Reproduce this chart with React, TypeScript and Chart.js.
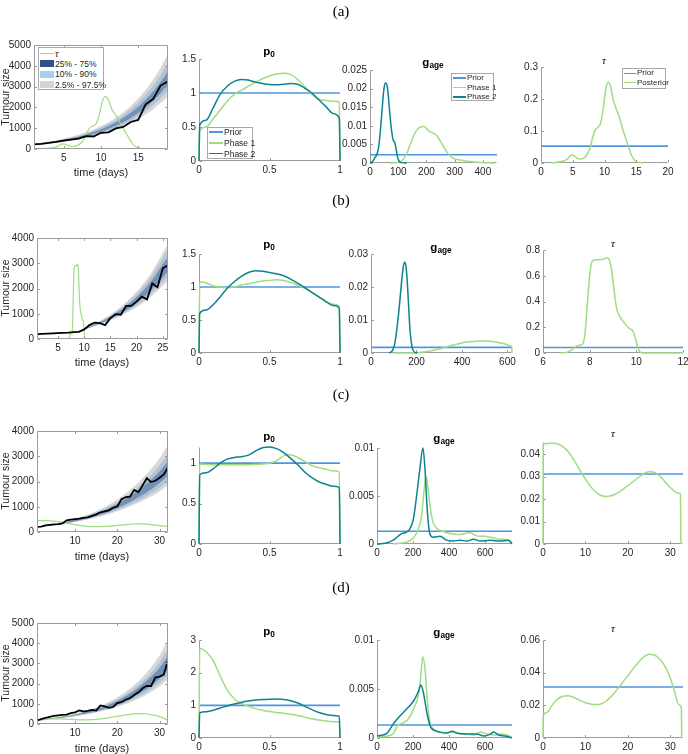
import React, { useEffect, useRef } from "react";
import { Chart, registerables } from "chart.js";

Chart.register(...registerables);

const FONT = '"Liberation Sans", Arial, Helvetica, sans-serif';
Chart.defaults.font.family = FONT;

// ---------- colours ----------
const PRIOR = "#4f95dc";
const PHASE1 = "#9fdd80";
const PHASE2 = "#0b8391";
const OBS = "#000000";
const BAND97 = "#d8d8d8";
const BAND90 = "#b3c3d6";
const BAND75 = "#7391b5";
const LEG75 = "#2e5183";
const LEG90 = "#a9cfec";
const LEG97 = "#d3d3d3";

// ================= Row (a) =================
const daysA = [1, 2, 3, 4, 5, 6, 7, 8, 9, 10, 11, 12, 13, 14, 15, 16, 17, 18, 19];
const obsA = [225, 250, 290, 340, 400, 450, 500, 620, 600, 780, 800, 990, 1060, 1300, 1400, 2150, 2400, 3050, 3250];
const bandDaysA = [1, 2, 3, 4, 5, 6, 7, 8, 9, 10, 11, 12, 13, 14, 15, 16, 17, 18, 19];
const lo975A = [200, 230, 266, 306, 352, 406, 467, 538, 621, 714, 822, 948, 1090, 1253, 1445, 1663, 1915, 2203, 2535];
const lo90A = [209, 242, 279, 323, 373, 431, 497, 575, 665, 767, 886, 1025, 1182, 1364, 1577, 1822, 2106, 2428, 2805];
const lo75A = [221, 256, 296, 343, 398, 460, 533, 618, 716, 829, 960, 1113, 1288, 1490, 1728, 2002, 2320, 2684, 3110];
const hi75A = [239, 279, 325, 379, 441, 514, 599, 698, 814, 948, 1105, 1289, 1500, 1745, 2036, 2372, 2767, 3219, 3752];
const hi90A = [251, 293, 343, 401, 469, 548, 640, 748, 876, 1023, 1196, 1399, 1633, 1906, 2230, 2606, 3048, 3557, 4157];
const hi975A = [265, 310, 363, 426, 499, 585, 685, 803, 942, 1103, 1291, 1514, 1771, 2071, 2428, 2844, 3333, 3896, 4563];
const tauXA = [1.7, 2.5, 3.2, 3.8, 4.3, 4.8, 5.2, 5.7, 6.2, 6.7, 7.2, 7.7, 8.2, 8.6, 9.0, 9.4, 9.8, 10.2, 10.6, 11.0, 11.4, 11.8, 12.3, 12.8, 13.3, 13.8, 14.3, 14.8, 15.4, 16.2];
const tauYA = [0, 0.002, 0.005, 0.008, 0.015, 0.025, 0.023, 0.015, 0.012, 0.015, 0.025, 0.045, 0.085, 0.105, 0.112, 0.125, 0.17, 0.23, 0.253, 0.235, 0.195, 0.172, 0.145, 0.11, 0.08, 0.05, 0.022, 0.008, 0.002, 0];
const tauScaleA = 10000;
const tauPriorA = 0.0526;
const p0Grid = [0, 0.005, 0.05, 0.1, 0.15, 0.2, 0.25, 0.3, 0.35, 0.4, 0.45, 0.5, 0.55, 0.6, 0.65, 0.7, 0.75, 0.8, 0.85, 0.9, 0.95, 0.995, 1];
const p0Ph1A = [0, 0.44, 0.5, 0.62, 0.75, 0.88, 0.98, 1.04, 1.1, 1.16, 1.21, 1.25, 1.28, 1.29, 1.27, 1.2, 1.09, 0.98, 0.91, 0.89, 0.88, 0.875, 0];
const p0Ph2A = [0, 0.53, 0.6, 0.78, 0.98, 1.1, 1.17, 1.2, 1.19, 1.16, 1.14, 1.125, 1.12, 1.13, 1.14, 1.13, 1.07, 1.0, 0.9, 0.8, 0.7, 0.63, 0];
const p0Prior = 1;
const gPh2XA = [0, 10, 18, 24, 30, 36, 42, 48, 54, 60, 65, 70, 76, 82, 88, 93, 98, 104, 112, 130];
const gPh2YA = [0, 0.0005, 0.0015, 0.0022, 0.004, 0.008, 0.0135, 0.019, 0.0215, 0.021, 0.018, 0.0135, 0.009, 0.0062, 0.0055, 0.0035, 0.0015, 0.0004, 0.0001, 0];
const gPh1XA = [70, 100, 115, 130, 145, 160, 175, 190, 200, 210, 222, 235, 248, 260, 272, 285, 300, 320, 345, 370, 395, 420, 440];
const gPh1YA = [0, 0.0001, 0.0008, 0.0025, 0.0055, 0.0082, 0.0095, 0.0098, 0.0093, 0.0085, 0.0081, 0.0075, 0.006, 0.0045, 0.003, 0.0018, 0.0011, 0.0008, 0.0005, 0.0003, 0.00015, 0.00005, 0];
const gPriorA = 0.00222;

// ================= Row (b) =================
const daysB = [1, 2, 3, 4, 5, 6, 7, 8, 9, 10, 11, 12, 13, 14, 15, 16, 17, 18, 19, 20, 21, 22, 23, 24, 25, 26];
const obsB = [190, 205, 215, 225, 235, 245, 255, 270, 285, 380, 550, 650, 630, 550, 825, 985, 960, 1310, 1310, 1480, 1680, 1570, 2200, 2050, 2800, 2920];
const bandDaysB = [1, 3, 5, 7, 9, 10, 11, 13, 15, 17, 19, 21, 23, 25, 26];
const lo975B = [182, 206, 230, 254, 282, 359, 428, 570, 731, 918, 1137, 1393, 1720, 2104, 2301];
const lo90B = [184, 209, 233, 257, 288, 371, 442, 592, 764, 967, 1206, 1488, 1838, 2265, 2478];
const lo75B = [187, 212, 236, 261, 294, 380, 456, 614, 798, 1021, 1281, 1591, 1978, 2444, 2685];
const hi75B = [193, 218, 244, 269, 306, 400, 484, 666, 882, 1145, 1466, 1858, 2344, 2948, 3245];
const hi90B = [196, 221, 247, 273, 312, 410, 498, 691, 924, 1210, 1562, 1995, 2537, 3203, 3540];
const hi975B = [198, 224, 250, 276, 318, 421, 512, 717, 966, 1274, 1658, 2116, 2688, 3404, 3776];
const tauXB = [6.75, 7.0, 7.2, 7.4, 7.55, 7.7, 7.8, 7.9, 8.0, 8.1, 8.25, 8.45, 8.6, 8.75, 8.85, 8.95, 9.05, 9.15, 9.3, 9.5, 9.7, 9.85, 9.95, 10.05, 10.15, 10.3, 11, 12];
const tauYB = [0, 0.005, 0.02, 0.05, 0.06, 0.07, 0.15, 0.38, 0.6, 0.71, 0.725, 0.725, 0.73, 0.74, 0.72, 0.63, 0.48, 0.35, 0.28, 0.23, 0.19, 0.17, 0.12, 0.05, 0.01, 0, 0, 0];
const tauScaleB = 4000;
const tauPriorB = 0.043;
const p0Ph1B = [0, 1.08, 1.06, 1.02, 1.0, 0.99, 1.0, 1.03, 1.05, 1.07, 1.09, 1.1, 1.11, 1.1, 1.07, 1.03, 0.98, 0.92, 0.85, 0.78, 0.74, 0.71, 0];
const p0Ph2B = [0, 0.6, 0.65, 0.73, 0.85, 0.98, 1.08, 1.16, 1.22, 1.245, 1.24, 1.22, 1.2, 1.17, 1.12, 1.06, 0.99, 0.92, 0.85, 0.78, 0.72, 0.68, 0];
const gPh2XB = [80, 95, 105, 115, 125, 135, 142, 148, 154, 160, 166, 172, 180, 190, 205];
const gPh2YB = [0, 0.0008, 0.003, 0.008, 0.0145, 0.022, 0.0262, 0.0275, 0.0262, 0.021, 0.0135, 0.0065, 0.002, 0.0003, 0];
const gPh1XB = [100, 180, 220, 260, 300, 340, 380, 420, 450, 480, 510, 540, 570, 600, 615, 619, 620];
const gPh1YB = [0, 0, 0.0002, 0.0006, 0.0012, 0.002, 0.0027, 0.0033, 0.0035, 0.0036, 0.0036, 0.0034, 0.003, 0.0025, 0.0021, 0.0019, 0];
const gPriorB = 0.0017;

// ================= Row (c) =================
const daysC = [1, 2, 3, 4, 5, 6, 7, 8, 9, 10, 11, 12, 13, 14, 15, 16, 17, 18, 19, 20, 21, 22, 23, 24, 25, 26, 27, 28, 29, 30, 31, 32];
const obsC = [200, 215, 260, 285, 300, 310, 340, 460, 490, 510, 530, 560, 580, 640, 700, 780, 820, 860, 960, 1010, 1300, 1380, 1400, 1670, 1580, 1850, 2130, 1980, 2030, 2150, 2280, 2560];
const bandDaysC = [1, 4, 7, 10, 13, 16, 19, 22, 25, 28, 30, 32];
const lo975C = [186, 237, 303, 392, 493, 614, 761, 940, 1155, 1404, 1606, 1850];
const lo90C = [190, 243, 313, 407, 516, 648, 808, 1006, 1245, 1525, 1752, 2025];
const lo75C = [195, 251, 326, 428, 548, 693, 874, 1097, 1373, 1687, 1941, 2250];
const hi75C = [205, 269, 355, 475, 618, 796, 1020, 1303, 1658, 2068, 2399, 2800];
const hi90C = [210, 278, 369, 496, 650, 842, 1086, 1396, 1785, 2251, 2634, 3100];
const hi975C = [214, 286, 384, 522, 690, 903, 1175, 1523, 1965, 2492, 2924, 3450];
const tauXC = [0, 0.05, 1, 2, 3, 4, 5, 6, 7, 8, 9, 10, 11, 12, 13, 14, 15, 16, 17, 18, 19, 20, 21, 22, 23, 24, 25, 26, 27, 28, 29, 30, 31, 32, 32.4, 32.5];
const tauYC = [0, 0.0445, 0.0448, 0.0449, 0.0448, 0.0442, 0.043, 0.041, 0.0383, 0.0352, 0.032, 0.029, 0.0262, 0.024, 0.0224, 0.0214, 0.0212, 0.0215, 0.0222, 0.0233, 0.0246, 0.026, 0.0275, 0.029, 0.0304, 0.0316, 0.0322, 0.0321, 0.0312, 0.0295, 0.0272, 0.0252, 0.0235, 0.0226, 0.0224, 0];
const tauScaleC = 10000;
const tauPriorC = 0.03125;
const p0Ph1C = [0, 0.99, 0.985, 0.98, 0.98, 0.98, 0.98, 0.98, 0.98, 0.985, 0.99, 1.0, 1.03, 1.09, 1.105, 1.07, 1.02, 0.97, 0.945, 0.925, 0.905, 0.89, 0];
const p0Ph2C = [0, 0.86, 0.88, 0.93, 1.0, 1.05, 1.07, 1.08, 1.1, 1.15, 1.19, 1.2, 1.18, 1.13, 1.06, 0.98, 0.89, 0.82, 0.77, 0.74, 0.715, 0.7, 0];
const gPh2XC = [0, 52, 89, 117, 140, 160, 180, 201, 220, 238, 255, 266, 279, 293, 313, 350, 387, 425, 462, 499, 536, 573, 629, 685, 731, 750];
const gPh2YC = [0, 0.0001, 0.0004, 0.0008, 0.0011, 0.0012, 0.0015, 0.0025, 0.005, 0.0078, 0.01, 0.008, 0.0036, 0.0011, 0.0007, 0.0008, 0.0004, 0.0003, 0.0004, 0.0003, 0.0005, 0.0003, 0.0004, 0.0003, 0.0004, 0];
const gPh1XC = [89, 164, 201, 229, 248, 261, 272, 285, 298, 313, 341, 369, 406, 440, 462, 490, 518, 545, 573, 601, 629, 657, 685, 710, 731, 750];
const gPh1YC = [0, 0.0002, 0.0006, 0.0015, 0.003, 0.0055, 0.0071, 0.0055, 0.0035, 0.0022, 0.0015, 0.0013, 0.0011, 0.001, 0.001, 0.0011, 0.0012, 0.0009, 0.0008, 0.0008, 0.0007, 0.0006, 0.0005, 0.0005, 0.0004, 0.0002];
const gPriorC = 0.00133;

// ================= Row (d) =================
const daysD = [1, 2, 3, 4, 5, 6, 7, 8, 9, 10, 11, 12, 13, 14, 15, 16, 17, 18, 19, 20, 21, 22, 23, 24, 25, 26, 27, 28, 29, 30, 31, 32];
const obsD = [180, 245, 300, 350, 400, 425, 450, 460, 540, 575, 670, 620, 655, 700, 670, 920, 870, 800, 840, 1030, 1080, 1200, 1280, 1440, 1570, 1770, 1890, 1880, 2300, 2350, 2450, 3150];
const bandDaysD = [1, 4, 7, 10, 13, 16, 19, 22, 25, 28, 30, 32];
const lo975D = [186, 237, 303, 383, 485, 614, 778, 988, 1247, 1586, 1868, 2220];
const lo90D = [190, 243, 313, 398, 507, 648, 826, 1056, 1345, 1722, 2038, 2430];
const lo75D = [195, 251, 326, 419, 539, 693, 893, 1153, 1482, 1905, 2258, 2700];
const hi75D = [205, 269, 355, 464, 607, 796, 1042, 1369, 1790, 2335, 2790, 3360];
const hi90D = [210, 278, 369, 485, 638, 842, 1109, 1466, 1928, 2541, 3063, 3720];
const hi975D = [214, 286, 384, 510, 678, 903, 1200, 1600, 2122, 2814, 3400, 4140];
const tauXD = [0, 0.05, 1, 2, 3, 4, 5, 6, 7, 8, 9, 10, 11, 12, 13, 14, 15, 16, 17, 18, 19, 20, 21, 22, 23, 24, 25, 26, 27, 28, 29, 30, 31, 32, 32.6, 32.7];
const tauYD = [0, 0.0138, 0.0158, 0.0195, 0.0228, 0.0248, 0.0257, 0.0258, 0.0251, 0.024, 0.0227, 0.0216, 0.0209, 0.0205, 0.0205, 0.0212, 0.0228, 0.0252, 0.0282, 0.0315, 0.0348, 0.0381, 0.0415, 0.0448, 0.0478, 0.0501, 0.0512, 0.051, 0.0496, 0.0468, 0.0428, 0.0368, 0.0285, 0.0205, 0.0185, 0];
const tauScaleD = 10000;
const tauPriorD = 0.03125;
const p0Ph1D = [0, 2.75, 2.64, 2.38, 1.9, 1.47, 1.2, 1.06, 0.97, 0.9, 0.85, 0.81, 0.78, 0.76, 0.73, 0.69, 0.64, 0.59, 0.55, 0.52, 0.5, 0.5, 0];
const p0Ph2D = [0, 0.77, 0.8, 0.85, 0.92, 0.98, 1.04, 1.09, 1.13, 1.16, 1.18, 1.19, 1.195, 1.18, 1.14, 1.07, 0.97, 0.87, 0.78, 0.72, 0.69, 0.67, 0];
const gPh2XD = [0, 56, 93, 130, 167, 204, 231, 244, 259, 278, 296, 315, 352, 389, 417, 444, 500, 556, 593, 630, 648, 676, 713, 750];
const gPh2YD = [0.0002, 0.0005, 0.0015, 0.0023, 0.003, 0.0038, 0.0048, 0.0054, 0.0045, 0.0025, 0.0012, 0.0008, 0.0006, 0.0005, 0.0007, 0.0005, 0.0004, 0.0004, 0.0002, 0.0004, 0.0006, 0.0003, 0.0002, 0];
const gPh1XD = [0, 56, 93, 111, 139, 167, 204, 231, 244, 254, 267, 281, 296, 324, 370, 417, 463, 500, 537, 574, 611, 657, 694, 722, 750];
const gPh1YD = [0.0001, 0.0002, 0.0005, 0.0012, 0.0015, 0.0018, 0.003, 0.0045, 0.0065, 0.0083, 0.007, 0.0035, 0.0015, 0.0008, 0.0005, 0.0006, 0.0004, 0.0004, 0.0003, 0.0006, 0.0004, 0.0003, 0.0004, 0.0003, 0.0001];
const gPriorD = 0.00133;

// ---------- helpers ----------
const pts = (xs: number[], ys: number[]) => xs.map((x, i) => ({ x, y: ys[i] }));

function line(xs: number[], ys: number[], color: string, width: number, order: number, smooth = true, clip?: number) {
  const d: any = {
    data: pts(xs, ys),
    borderColor: color,
    borderWidth: width,
    pointRadius: 0,
    fill: false,
    order,
    tension: smooth ? 0.4 : 0,
    cubicInterpolationMode: smooth ? "monotone" : "default",
  };
  if (clip !== undefined) d.clip = clip;
  return d;
}

function edge(xs: number[], ys: number[], order: number, fillTo: number | null, color: string) {
  return {
    data: pts(xs, ys),
    borderColor: "rgba(0,0,0,0)",
    borderWidth: 0,
    pointRadius: 0,
    order,
    fill: fillTo === null ? false : fillTo,
    backgroundColor: color,
    cubicInterpolationMode: "monotone",
  };
}

function tumourSets(bd: number[], lo975: number[], lo90: number[], lo75: number[], hi75: number[], hi90: number[], hi975: number[], tx: number[], ty: number[], scale: number, days: number[], obs: number[]) {
  return [
    edge(bd, hi975, 10, 1, BAND97),
    edge(bd, lo975, 10, null, BAND97),
    edge(bd, hi90, 9, 3, BAND90),
    edge(bd, lo90, 9, null, BAND90),
    edge(bd, hi75, 8, 5, BAND75),
    edge(bd, lo75, 8, null, BAND75),
    line(tx, ty.map((v) => v * scale), PHASE1, 1.2, 2, true),
    line(days, obs, OBS, 1.8, 1, false),
  ];
}

function phaseSets(prior: number, xr: [number, number], x1: number[], y1: number[], x2: number[], y2: number[]) {
  return [
    line([xr[0], xr[1]], [prior, prior], PRIOR, 1.6, 3, false, 3),
    line(x1, y1, PHASE1, 1.5, 2, true, 3),
    line(x2, y2, PHASE2, 1.5, 1, true, 3),
  ];
}

function tauSets(prior: number, xr: [number, number], x: number[], y: number[]) {
  return [
    line([xr[0], xr[1]], [prior, prior], PRIOR, 1.6, 2, false, 3),
    line(x, y, PHASE1, 1.5, 1, true, 3),
  ];
}

const fmt = (v: number) => String(Math.round(v * 1e6) / 1e6);

const PADL = 40;
const PADT = 10;
const PADR = 16;
const PADB = 22;

function drawAxes(chart: any, boxed: boolean) {
  const { ctx, chartArea: a, scales } = chart;
  const l = Math.round(a.left) + 0.5;
  const r = Math.round(a.right) - 0.5;
  const t = Math.round(a.top) + 0.5;
  const b = Math.round(a.bottom) - 0.5;
  ctx.save();
  ctx.strokeStyle = "#9c9c9c";
  ctx.lineWidth = 1;
  ctx.beginPath();
  ctx.moveTo(l, t);
  ctx.lineTo(l, b);
  ctx.lineTo(r, b);
  if (boxed) {
    ctx.lineTo(r, t);
    ctx.lineTo(l, t);
  }
  ctx.stroke();
  const tl = 2.5;
  ctx.beginPath();
  for (const tk of scales.x.ticks) {
    const px = Math.round(scales.x.getPixelForValue(tk.value)) + 0.5;
    ctx.moveTo(px, b);
    ctx.lineTo(px, b - tl);
    if (boxed) {
      ctx.moveTo(px, t);
      ctx.lineTo(px, t + tl);
    }
  }
  for (const tk of scales.y.ticks) {
    const py = Math.round(scales.y.getPixelForValue(tk.value)) + 0.5;
    ctx.moveTo(l, py);
    ctx.lineTo(l + tl, py);
    if (boxed) {
      ctx.moveTo(r, py);
      ctx.lineTo(r - tl, py);
    }
  }
  ctx.stroke();
  ctx.restore();
}

const axesPlugin = {
  id: "matAxes",
  beforeDatasetsDraw(chart: any, _args: any, opts: any) {
    if (!opts.boxed) drawAxes(chart, false);
  },
  afterDatasetsDraw(chart: any, _args: any, opts: any) {
    if (opts.boxed) drawAxes(chart, true);
  },
};

type Spec = {
  id: string;
  box: [number, number, number, number];
  x: [number, number];
  y: [number, number];
  xt: number[];
  yt: number[];
  boxed?: boolean;
  ds: any[];
};

function Panel({ spec }: { spec: Spec }) {
  const ref = useRef<HTMLCanvasElement>(null);
  const [L, T, R, B] = spec.box;
  const W = R - L;
  const H = B - T;
  const cw = W + PADL + PADR;
  const ch = H + PADT + PADB;
  useEffect(() => {
    const tickFont = { size: 10, family: FONT };
    const chart = new Chart(ref.current as HTMLCanvasElement, {
      type: "line",
      data: { datasets: spec.ds },
      plugins: [axesPlugin as any],
      options: {
        animation: false,
        responsive: false,
        maintainAspectRatio: false,
        devicePixelRatio: 1,
        events: [],
        layout: { padding: { left: 0, top: PADT, right: PADR, bottom: 0 } },
        plugins: {
          legend: { display: false },
          tooltip: { enabled: false },
          matAxes: { boxed: !!spec.boxed },
        } as any,
        elements: { point: { radius: 0 } },
        scales: {
          x: {
            type: "linear",
            min: spec.x[0],
            max: spec.x[1],
            grid: { display: false, drawTicks: false },
            border: { display: false },
            ticks: {
              font: tickFont,
              color: "#262626",
              padding: 3,
              autoSkip: false,
              maxRotation: 0,
              minRotation: 0,
              callback: (v: any) => fmt(Number(v)),
            },
            afterBuildTicks: (s: any) => {
              s.ticks = spec.xt.map((v) => ({ value: v }));
            },
            afterFit: (s: any) => {
              s.height = PADB;
            },
          },
          y: {
            type: "linear",
            min: spec.y[0],
            max: spec.y[1],
            grid: { display: false, drawTicks: false },
            border: { display: false },
            ticks: {
              font: tickFont,
              color: "#262626",
              padding: 3,
              autoSkip: false,
              callback: (v: any) => fmt(Number(v)),
            },
            afterBuildTicks: (s: any) => {
              s.ticks = spec.yt.map((v) => ({ value: v }));
            },
            afterFit: (s: any) => {
              s.width = PADL;
            },
          },
        },
      } as any,
    });
    return () => chart.destroy();
  }, []);
  return (
    <canvas
      ref={ref}
      width={cw}
      height={ch}
      style={{ position: "absolute", left: L - PADL, top: T - PADT, width: cw, height: ch }}
    />
  );
}

const specs: Spec[] = [
  // Row (a)
  {
    id: "a1", box: [34, 45, 168, 149], x: [1, 19], y: [0, 5000], xt: [5, 10, 15], yt: [0, 1000, 2000, 3000, 4000, 5000], boxed: true,
    ds: tumourSets(bandDaysA, lo975A, lo90A, lo75A, hi75A, hi90A, hi975A, tauXA, tauYA, tauScaleA, daysA, obsA),
  },
  { id: "a2", box: [199, 59, 340, 161], x: [0, 1], y: [0, 1.5], xt: [0, 0.5, 1], yt: [0, 0.5, 1, 1.5], ds: phaseSets(p0Prior, [0, 1], p0Grid, p0Ph1A, p0Grid, p0Ph2A) },
  { id: "a3", box: [370, 70, 497, 163], x: [0, 450], y: [0, 0.025], xt: [0, 100, 200, 300, 400], yt: [0, 0.005, 0.01, 0.015, 0.02, 0.025], ds: phaseSets(gPriorA, [0, 450], gPh1XA, gPh1YA, gPh2XA, gPh2YA) },
  { id: "a4", box: [541, 67, 668, 163], x: [0, 20], y: [0, 0.3], xt: [0, 5, 10, 15, 20], yt: [0, 0.1, 0.2, 0.3], ds: tauSets(tauPriorA, [0, 20], tauXA, tauYA) },
  // Row (b)
  {
    id: "b1", box: [37, 238, 168, 339], x: [1, 26], y: [0, 4000], xt: [5, 10, 15, 20, 25], yt: [0, 1000, 2000, 3000, 4000], boxed: true,
    ds: tumourSets(bandDaysB, lo975B, lo90B, lo75B, hi75B, hi90B, hi975B, tauXB, tauYB, tauScaleB, daysB, obsB),
  },
  { id: "b2", box: [199, 254, 340, 353], x: [0, 1], y: [0, 1.5], xt: [0, 0.5, 1], yt: [0, 0.5, 1, 1.5], ds: phaseSets(p0Prior, [0, 1], p0Grid, p0Ph1B, p0Grid, p0Ph2B) },
  { id: "b3", box: [371, 254, 512, 353], x: [0, 620], y: [0, 0.03], xt: [0, 200, 400, 600], yt: [0, 0.01, 0.02, 0.03], ds: phaseSets(gPriorB, [0, 620], gPh1XB, gPh1YB, gPh2XB, gPh2YB) },
  { id: "b4", box: [543, 250, 683, 353], x: [6, 12], y: [0, 0.8], xt: [6, 8, 10, 12], yt: [0, 0.2, 0.4, 0.6, 0.8], ds: tauSets(tauPriorB, [6, 12], tauXB, tauYB) },
  // Row (c)
  {
    id: "c1", box: [37, 431, 168, 532], x: [1, 32], y: [0, 4000], xt: [10, 20, 30], yt: [0, 1000, 2000, 3000, 4000], boxed: true,
    ds: tumourSets(bandDaysC, lo975C, lo90C, lo75C, hi75C, hi90C, hi975C, tauXC, tauYC, tauScaleC, daysC, obsC),
  },
  { id: "c2", box: [199, 447, 340, 544], x: [0, 1], y: [0, 1.2], xt: [0, 0.5, 1], yt: [0, 0.5, 1], ds: phaseSets(p0Prior, [0, 1], p0Grid, p0Ph1C, p0Grid, p0Ph2C) },
  { id: "c3", box: [377, 448, 512, 544], x: [0, 750], y: [0, 0.01], xt: [0, 200, 400, 600], yt: [0, 0.005, 0.01], ds: phaseSets(gPriorC, [0, 750], gPh1XC, gPh1YC, gPh2XC, gPh2YC) },
  { id: "c4", box: [543, 442, 683, 544], x: [0, 33], y: [0, 0.0455], xt: [0, 10, 20, 30], yt: [0, 0.01, 0.02, 0.03, 0.04], ds: tauSets(tauPriorC, [0, 33], tauXC, tauYC) },
  // Row (d)
  {
    id: "d1", box: [37, 623, 168, 724], x: [1, 32], y: [0, 5000], xt: [10, 20, 30], yt: [0, 1000, 2000, 3000, 4000, 5000], boxed: true,
    ds: tumourSets(bandDaysD, lo975D, lo90D, lo75D, hi75D, hi90D, hi975D, tauXD, tauYD, tauScaleD, daysD, obsD),
  },
  { id: "d2", box: [199, 640, 340, 738], x: [0, 1], y: [0, 3], xt: [0, 0.5, 1], yt: [0, 1, 2, 3], ds: phaseSets(p0Prior, [0, 1], p0Grid, p0Ph1D, p0Grid, p0Ph2D) },
  { id: "d3", box: [377, 640, 512, 738], x: [0, 750], y: [0, 0.01], xt: [0, 200, 400, 600], yt: [0, 0.005, 0.01], ds: phaseSets(gPriorD, [0, 750], gPh1XD, gPh1YD, gPh2XD, gPh2YD) },
  { id: "d4", box: [543, 640, 683, 738], x: [0, 33], y: [0, 0.06], xt: [0, 10, 20, 30], yt: [0, 0.02, 0.04, 0.06], ds: tauSets(tauPriorD, [0, 33], tauXD, tauYD) },
];

function Txt({ x, y, children, style }: { x: number; y: number; children: React.ReactNode; style?: React.CSSProperties }) {
  return (
    <div
      style={{
        position: "absolute",
        left: x,
        top: y,
        transform: "translate(-50%, -50%)",
        whiteSpace: "nowrap",
        lineHeight: 1,
        color: "#262626",
        font: `11px ${FONT}`,
        ...style,
      }}
    >
      {children}
    </div>
  );
}

const subStyle: React.CSSProperties = { fontSize: "0.72em", position: "relative", top: "0.3em", verticalAlign: "baseline" };

function P0Title({ x, y }: { x: number; y: number }) {
  return (
    <Txt x={x} y={y} style={{ fontWeight: "bold", color: "#000", fontSize: 11.5 }}>
      p<span style={subStyle}>0</span>
    </Txt>
  );
}
function GTitle({ x, y }: { x: number; y: number }) {
  return (
    <Txt x={x} y={y} style={{ fontWeight: "bold", color: "#000", fontSize: 11.5 }}>
      g<span style={subStyle}>age</span>
    </Txt>
  );
}
function TauTitle({ x, y }: { x: number; y: number }) {
  return (
    <Txt x={x} y={y} style={{ font: `italic 11px "Liberation Serif", "DejaVu Serif", serif`, color: "#000" }}>
      τ
    </Txt>
  );
}

type LegItem = { label: React.ReactNode; color: string; kind: "line" | "swatch" };

function Legend(p: { left: number; top: number; width: number; height: number; items: LegItem[]; first: number; step: number; sampleW: number; textX: number; fontSize: number }) {
  return (
    <div
      style={{
        position: "absolute",
        left: p.left,
        top: p.top,
        width: p.width,
        height: p.height,
        border: "1px solid #a8a8a8",
        background: "#fff",
        boxSizing: "border-box",
      }}
    >
      {p.items.map((it, i) => {
        const cy = p.first + i * p.step - 1;
        return (
          <React.Fragment key={i}>
            {it.kind === "line" ? (
              <div style={{ position: "absolute", left: 1, top: cy - 0.75, width: p.sampleW, height: 1.5, background: it.color }} />
            ) : (
              <div style={{ position: "absolute", left: 1, top: cy - 3.5, width: p.sampleW, height: 7, background: it.color }} />
            )}
            <div
              style={{
                position: "absolute",
                left: p.textX,
                top: cy,
                transform: "translateY(-50%)",
                font: `${p.fontSize}px ${FONT}`,
                color: "#262626",
                whiteSpace: "nowrap",
                lineHeight: 1,
              }}
            >
              {it.label}
            </div>
          </React.Fragment>
        );
      })}
    </div>
  );
}

const phaseItems: LegItem[] = [
  { label: "Prior", color: PRIOR, kind: "line" },
  { label: "Phase 1", color: PHASE1, kind: "line" },
  { label: "Phase 2", color: PHASE2, kind: "line" },
];

export default function App() {
  const serif = `15px "Liberation Serif", "DejaVu Serif", serif`;
  const rot: React.CSSProperties = { transform: "translate(-50%, -50%) rotate(-90deg)", fontSize: 10.5 };
  return (
    <div style={{ position: "absolute", left: 0, top: 0, width: 688, height: 754, background: "#fff", overflow: "hidden" }}>
      {specs.map((s) => (
        <Panel key={s.id} spec={s} />
      ))}

      {/* row letters */}
      <Txt x={341} y={11} style={{ font: serif, color: "#000" }}>(a)</Txt>
      <Txt x={341} y={200} style={{ font: serif, color: "#000" }}>(b)</Txt>
      <Txt x={341} y={394} style={{ font: serif, color: "#000" }}>(c)</Txt>
      <Txt x={341} y={587} style={{ font: serif, color: "#000" }}>(d)</Txt>

      {/* y labels */}
      <Txt x={5} y={97} style={rot}>Tumour size</Txt>
      <Txt x={5} y={288} style={rot}>Tumour size</Txt>
      <Txt x={5} y={481} style={rot}>Tumour size</Txt>
      <Txt x={5} y={673} style={rot}>Tumour size</Txt>

      {/* x labels */}
      <Txt x={101} y={172}>time (days)</Txt>
      <Txt x={102} y={362}>time (days)</Txt>
      <Txt x={102} y={556}>time (days)</Txt>
      <Txt x={102} y={748}>time (days)</Txt>

      {/* titles */}
      <P0Title x={269} y={51} />
      <GTitle x={433} y={62} />
      <TauTitle x={604} y={60} />
      <P0Title x={269} y={244} />
      <GTitle x={441} y={247} />
      <TauTitle x={613} y={243} />
      <P0Title x={269} y={436} />
      <GTitle x={444} y={438} />
      <TauTitle x={613} y={433} />
      <P0Title x={269} y={631} />
      <GTitle x={444} y={632} />
      <TauTitle x={613} y={628} />

      {/* legends */}
      <Legend
        left={38}
        top={47}
        width={66}
        height={43}
        first={6.6}
        step={10.3}
        sampleW={14}
        textX={16}
        fontSize={8.5}
        items={[
          { label: <i style={{ fontFamily: '"Liberation Serif", serif', fontSize: 10 }}>τ</i>, color: PHASE1, kind: "line" },
          { label: "25% - 75%", color: LEG75, kind: "swatch" },
          { label: "10% - 90%", color: LEG90, kind: "swatch" },
          { label: "2.5% - 97.5%", color: LEG97, kind: "swatch" },
        ]}
      />
      <Legend left={207} top={127} width={46} height={32} first={5} step={10.8} sampleW={14} textX={16} fontSize={8.5} items={phaseItems} />
      <Legend left={451} top={73} width={43} height={28} first={5} step={9.5} sampleW={13} textX={15} fontSize={8} items={phaseItems} />
      <Legend
        left={622}
        top={68}
        width={44}
        height={21}
        first={5.3}
        step={9.4}
        sampleW={12}
        textX={14}
        fontSize={8}
        items={[
          { label: "Prior", color: PRIOR, kind: "line" },
          { label: "Posterior", color: PHASE1, kind: "line" },
        ]}
      />
    </div>
  );
}
